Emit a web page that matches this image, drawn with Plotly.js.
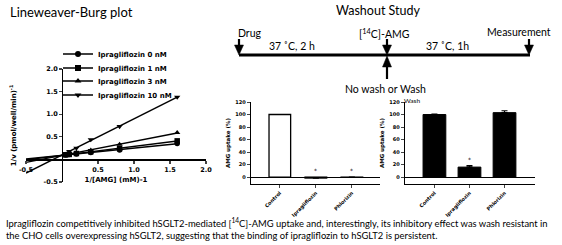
<!DOCTYPE html>
<html>
<head>
<meta charset="utf-8">
<script src="https://cdn.plot.ly/plotly-3.0.1.min.js"></script>
<style>html,body{margin:0;padding:0;background:#fff;}#chart{width:562px;height:245px;}</style>
</head>
<body>
<div id="chart"></div>
<script>
// ---------- Data ----------
// Lineweaver-Burk plot: x = 1/[AMG] (mM^-1), y = 1/v
const lbX = [0.05, 0.1, 0.2, 0.4, 0.8, 1.6];
const lbIpra0 = [0.10, 0.11, 0.12, 0.15, 0.21, 0.35];
const lbIpra1 = [0.10, 0.11, 0.13, 0.17, 0.24, 0.41];
const lbIpra3 = [0.11, 0.13, 0.15, 0.20, 0.33, 0.59];
const lbIpra10 = [0.13, 0.18, 0.25, 0.44, 0.73, 1.38];
const lbNames = ['Ipragliflozin 0 nM', 'Ipragliflozin 1 nM', 'Ipragliflozin 3 nM', 'Ipragliflozin 10 nM'];
const lbTickVals = [-0.5, 0.5, 1.0, 1.5, 2.0];
const lbTickText = ['-0.5', '0.5', '1.0', '1.5', '2.0'];

// Washout bar charts
const barCats = ['Control', 'Ipragliflozin', 'Phlorizin'];
const noWashVals = [100, -1.5, -0.4];
const noWashErr = [0, 0.8, 0.3];
const noWashSig = ['', '*', '*'];
const washVals = [100, 16, 103];
const washErr = [0.5, 2.5, 3];
const washSig = ['', '*', ''];
const barTickVals = [0, 20, 40, 60, 80, 100, 120];

// ---------- Helpers ----------
const W = 562, H = 245;
const px = v => v / W;
const py = v => 1 - v / H;
const gpFont = {family: 'DejaVu Sans', weight: 'bold', color: '#000'};
const txtFont = 'Lato, "Open Sans", sans-serif';

function fit(xs, ys) {
  const n = xs.length;
  let sx = 0, sy = 0, sxx = 0, sxy = 0;
  for (let i = 0; i < n; i++) { sx += xs[i]; sy += ys[i]; sxx += xs[i]*xs[i]; sxy += xs[i]*ys[i]; }
  const m = (n*sxy - sx*sy) / (n*sxx - sx*sx);
  return {m: m, b: (sy - m*sx) / n};
}

const traces = [];
const series = [lbIpra0, lbIpra1, lbIpra3, lbIpra10];
const symbols = ['circle', 'square', 'triangle-up', 'triangle-down'];
const legendIds = ['legend', 'legend2', 'legend3', 'legend4'];
const xMin = -0.5;
series.forEach((ys, i) => {
  const f = fit(lbX, ys);
  const xEnd = Math.max(...lbX);
  traces.push({type: 'scatter', mode: 'lines', x: [xMin, xEnd], y: [f.m*xMin + f.b, f.m*xEnd + f.b],
    xaxis: 'x', yaxis: 'y', line: {color: '#000', width: 1.4}, showlegend: false, hoverinfo: 'skip'});
  traces.push({type: 'scatter', mode: 'markers', x: lbX, y: ys, xaxis: 'x', yaxis: 'y',
    marker: {symbol: symbols[i], size: 5.5, color: '#000'}, showlegend: false, cliponaxis: false});
  traces.push({type: 'scatter', mode: 'lines+markers', x: [null], y: [null], xaxis: 'x', yaxis: 'y',
    name: lbNames[i], legend: legendIds[i], showlegend: true,
    line: {color: '#000', width: 1.4}, marker: {symbol: symbols[i], size: 6, color: '#000'}});
});

traces.push({type: 'bar', x: barCats, y: noWashVals, xaxis: 'x2', yaxis: 'y2', width: 0.6,
  marker: {color: '#fff', line: {color: '#000', width: 1.3}}, showlegend: false,
  error_y: {type: 'data', symmetric: false, array: noWashErr, arrayminus: noWashErr.map(() => 0), color: '#000', thickness: 1.2, width: 3}});
traces.push({type: 'bar', x: barCats, y: washVals, xaxis: 'x3', yaxis: 'y3', width: 0.65,
  marker: {color: '#000', line: {color: '#000', width: 1}}, showlegend: false,
  error_y: {type: 'data', symmetric: false, array: washErr, arrayminus: washErr.map(() => 0), color: '#000', thickness: 1.2, width: 3}});

// ---------- Annotations ----------
const ann = [];
ann.push({xref: 'paper', yref: 'paper', x: px(8), y: py(12), xanchor: 'left', yanchor: 'middle', showarrow: false,
  text: 'Lineweaver-Burg plot', font: {family: txtFont, size: 13, color: '#000'}});
ann.push({xref: 'paper', yref: 'paper', x: px(378), y: py(10), xanchor: 'center', yanchor: 'middle', showarrow: false,
  text: 'Washout Study', font: {family: txtFont, size: 12.5, color: '#000'}});
const diagFont = {family: txtFont, size: 10.5, color: '#000'};
ann.push({xref: 'paper', yref: 'paper', x: px(236), y: py(33), xanchor: 'left', yanchor: 'middle', showarrow: false, text: 'Drug', font: diagFont});
ann.push({xref: 'paper', yref: 'paper', x: px(292), y: py(46), xanchor: 'center', yanchor: 'middle', showarrow: false, text: '37 ˚C, 2 h', font: diagFont});
ann.push({xref: 'paper', yref: 'paper', x: px(384), y: py(33), xanchor: 'center', yanchor: 'middle', showarrow: false, text: '[<sup>14</sup>C]-AMG', font: diagFont});
ann.push({xref: 'paper', yref: 'paper', x: px(447), y: py(46), xanchor: 'center', yanchor: 'middle', showarrow: false, text: '37 ˚C, 1h', font: diagFont});
ann.push({xref: 'paper', yref: 'paper', x: px(553), y: py(32), xanchor: 'right', yanchor: 'middle', showarrow: false, text: 'Measurement', font: diagFont});
ann.push({xref: 'paper', yref: 'paper', x: px(385), y: py(89), xanchor: 'center', yanchor: 'middle', showarrow: false, text: 'No wash or Wash', font: diagFont});
ann.push({xref: 'paper', yref: 'paper', x: px(412), y: py(100), xanchor: 'center', yanchor: 'middle', showarrow: false, text: 'Wash', font: {family: txtFont, size: 6.5, color: '#000'}});
ann.push({xref: 'paper', yref: 'paper', x: px(4), y: py(229), xanchor: 'left', yanchor: 'middle', align: 'left', showarrow: false,
  text: 'Ipragliflozin competitively inhibited hSGLT2-mediated [<sup>14</sup>C]-AMG uptake and, interestingly, its inhibitory effect was wash resistant in<br>the CHO cells overexpressing hSGLT2, suggesting that the binding of ipragliflozin to hSGLT2 is persistent.',
  font: {family: txtFont, size: 9.4, color: '#000'}});
// significance stars
noWashSig.forEach((s, i) => { if (s) ann.push({xref: 'x2', yref: 'y2', x: barCats[i], y: Math.max(0, noWashVals[i] + noWashErr[i]) + 1, yanchor: 'bottom', showarrow: false, text: s, font: {family: 'DejaVu Sans', size: 6, color: '#000'}}); });
washSig.forEach((s, i) => { if (s) ann.push({xref: 'x3', yref: 'y3', x: barCats[i], y: Math.max(0, washVals[i] + washErr[i]) + 1, yanchor: 'bottom', showarrow: false, text: s, font: {family: 'DejaVu Sans', size: 6, color: '#000'}}); });

// ---------- Diagram shapes ----------
const shapes = [];
shapes.push({type: 'line', xref: 'paper', yref: 'paper', x0: px(239), x1: px(530), y0: py(55), y1: py(55), line: {color: '#000', width: 3}});
function downArrow(cx, tipY) {
  shapes.push({type: 'line', xref: 'paper', yref: 'paper', x0: px(cx), x1: px(cx), y0: py(tipY - 16), y1: py(tipY - 8), line: {color: '#000', width: 2.2}});
  shapes.push({type: 'path', xref: 'paper', yref: 'paper', fillcolor: '#000', line: {color: '#000', width: 0.5},
    path: `M ${px(cx-4.5)} ${py(tipY-10)} L ${px(cx+4.5)} ${py(tipY-10)} L ${px(cx)} ${py(tipY)} Z`});
}
function upArrow(cx, tipY) {
  shapes.push({type: 'line', xref: 'paper', yref: 'paper', x0: px(cx), x1: px(cx), y0: py(tipY + 9), y1: py(tipY + 23), line: {color: '#000', width: 2.2}});
  shapes.push({type: 'path', xref: 'paper', yref: 'paper', fillcolor: '#000', line: {color: '#000', width: 0.5},
    path: `M ${px(cx-4.5)} ${py(tipY+11)} L ${px(cx+4.5)} ${py(tipY+11)} L ${px(cx)} ${py(tipY)} Z`});
}
downArrow(239, 55);
downArrow(387, 55);
downArrow(529, 55);
upArrow(387, 56);

// ---------- Layout ----------
const lbXDom = [px(26), px(206)];
const lbYDom = [py(182), py(69)];
const frac = 0.5 / 2.5; // position of zero within [-0.5, 2.0]
const barTickFont = Object.assign({size: 5}, gpFont);

const layout = {
  width: W, height: H,
  margin: {l: 0, r: 0, t: 0, b: 0},
  paper_bgcolor: '#fff', plot_bgcolor: 'rgba(0,0,0,0)',
  showlegend: true,
  xaxis: {domain: lbXDom, range: [-0.5, 2.0], anchor: 'free', position: lbYDom[0] + frac*(lbYDom[1]-lbYDom[0]),
    tickvals: lbTickVals, ticktext: lbTickText, ticks: 'outside', ticklen: 3, tickwidth: 1.2,
    showline: true, linecolor: '#000', linewidth: 1.4, showgrid: false, zeroline: false,
    tickfont: Object.assign({size: 6.5}, gpFont),
    title: {text: '1/[AMG] (mM)-1', font: Object.assign({size: 7}, gpFont), standoff: 4}},
  yaxis: {domain: lbYDom, range: [-0.5, 2.0], anchor: 'free', position: lbXDom[0] + frac*(lbXDom[1]-lbXDom[0]),
    tickvals: lbTickVals, ticktext: lbTickText, ticks: 'outside', ticklen: 3, tickwidth: 1.2,
    showline: true, linecolor: '#000', linewidth: 1.4, showgrid: false, zeroline: false,
    tickfont: Object.assign({size: 6.5}, gpFont),
    title: {text: '1/v (pmol/well/min)<sup>-1</sup>', font: Object.assign({size: 7}, gpFont), standoff: 24}},
  xaxis2: {domain: [px(251), px(380)], anchor: 'y2', type: 'category', range: [-0.8, 2.78],
    showline: true, linecolor: '#000', linewidth: 1.2, ticks: 'outside', ticklen: 3, tickwidth: 1,
    tickangle: -45, tickfont: barTickFont, showgrid: false, zeroline: false},
  yaxis2: {domain: [py(184), py(102)], anchor: 'x2', range: [-11, 120], tickvals: barTickVals,
    showline: true, linecolor: '#000', linewidth: 1.2, ticks: 'outside', ticklen: 3, tickwidth: 1,
    tickfont: barTickFont, showgrid: false, zeroline: true, zerolinecolor: '#000', zerolinewidth: 1.2,
    title: {text: 'AMG uptake (%)', font: Object.assign({size: 5.5}, gpFont), standoff: 4}},
  xaxis3: {domain: [px(405), px(535)], anchor: 'y3', type: 'category', range: [-0.84, 2.87],
    showline: true, linecolor: '#000', linewidth: 1.2, ticks: 'outside', ticklen: 3, tickwidth: 1,
    tickangle: -45, tickfont: barTickFont, showgrid: false, zeroline: false},
  yaxis3: {domain: [py(184), py(102)], anchor: 'x3', range: [-11, 120], tickvals: barTickVals,
    showline: true, linecolor: '#000', linewidth: 1.2, ticks: 'outside', ticklen: 3, tickwidth: 1,
    tickfont: barTickFont, showgrid: false, zeroline: true, zerolinecolor: '#000', zerolinewidth: 1.2,
    title: {text: 'AMG uptake (%)', font: Object.assign({size: 5.5}, gpFont), standoff: 4}},
  annotations: ann,
  shapes: shapes
};
const legRows = [54, 68, 81, 95];
legendIds.forEach((id, i) => {
  layout[id] = {x: px(58), y: py(legRows[i]), xanchor: 'left', yanchor: 'middle', bgcolor: 'rgba(0,0,0,0)',
    borderwidth: 0, itemwidth: 30, tracegroupgap: 0, font: Object.assign({size: 7}, gpFont)};
});

Plotly.newPlot('chart', traces, layout, {displayModeBar: false, staticPlot: true});
</script>
</body>
</html>
